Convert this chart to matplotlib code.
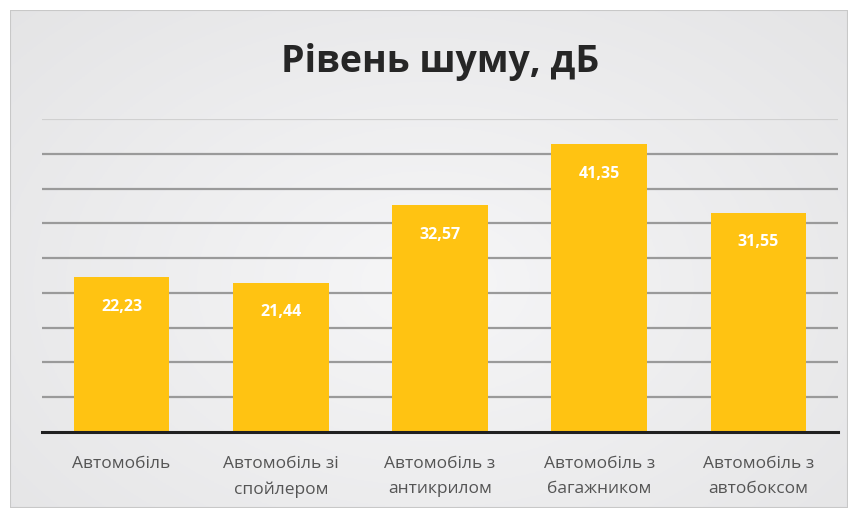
import matplotlib
matplotlib.use("Agg")
import matplotlib.pyplot as plt
import numpy as np
from matplotlib.patches import Rectangle

categories = ["Автомобіль", "Автомобіль зі\nспойлером", "Автомобіль з\nантикрилом",
              "Автомобіль з\nбагажником", "Автомобіль з\nавтобоксом"]
values = [22.23, 21.44, 32.57, 41.35, 31.55]
value_labels = ["22,23", "21,44", "32,57", "41,35", "31,55"]
title = "Рівень шуму, дБ"

plt.rcParams['font.family'] = ['Open Sans', 'DejaVu Sans']

fig = plt.figure(figsize=(8.56, 5.18), dpi=100)
fig.patch.set_facecolor("white")

# background panel with soft gradient
bg = fig.add_axes([10/856, 10/518, 838/856, 498/518])
bg.set_xlim(0, 1); bg.set_ylim(0, 1); bg.axis("off")
yy, xx = np.mgrid[0:1:200j, 0:1:300j]
r = np.sqrt(((xx - 0.5) / 0.7) ** 2 + ((yy - 0.55) / 0.8) ** 2)
g = 0.965 - 0.07 * np.clip(r, 0, 1.2)
img = np.dstack([g, g, g + 0.005])
bg.imshow(np.clip(img, 0, 1), extent=[0, 1, 0, 1], aspect="auto", zorder=0)
bg.add_patch(Rectangle((0, 0), 1, 1, fill=False, edgecolor="#c8c8c8", lw=1.5, zorder=1))

left, right, bottom, top = 42/856, 838/856, (518-432)/518, (518-119)/518
ax = fig.add_axes([left, bottom, right-left, top-bottom])
ax.patch.set_alpha(0)
x = np.arange(len(categories))
bars = ax.bar(x, values, width=0.6, color="#FFC312", zorder=3)
ax.set_xlim(-0.5, len(categories) - 0.5)
ax.set_ylim(0, 45)
ax.set_yticks(np.arange(5, 46, 5))
ax.yaxis.grid(True, color="#9a9a9a", lw=1.6, zorder=1)
ax.get_ygridlines()[-1].set_color("#d0d0d0")
ax.tick_params(axis="y", left=False, labelleft=False)
ax.tick_params(axis="x", bottom=False, labelsize=12.5, colors="#555555", pad=14)
ax.set_xticks(x)
ax.set_xticklabels(categories, linespacing=1.7)
for s in ["left", "right", "top"]:
    ax.spines[s].set_visible(False)
ax.spines["bottom"].set_color("#202020")
ax.spines["bottom"].set_linewidth(2.2)
ax.spines["bottom"].set_zorder(4)

for xi, v, lab in zip(x, values, value_labels):
    ax.annotate(lab, (xi, v), xytext=(0, -21), textcoords="offset points",
                ha="center", va="center", color="white", fontsize=11.5, fontweight="bold", zorder=5)

fig.text(440/856, 1 - 62/518, title, ha="center", va="center", fontsize=27,
         fontweight="bold", color="#262626")

fig.savefig("out.png", dpi=100)
